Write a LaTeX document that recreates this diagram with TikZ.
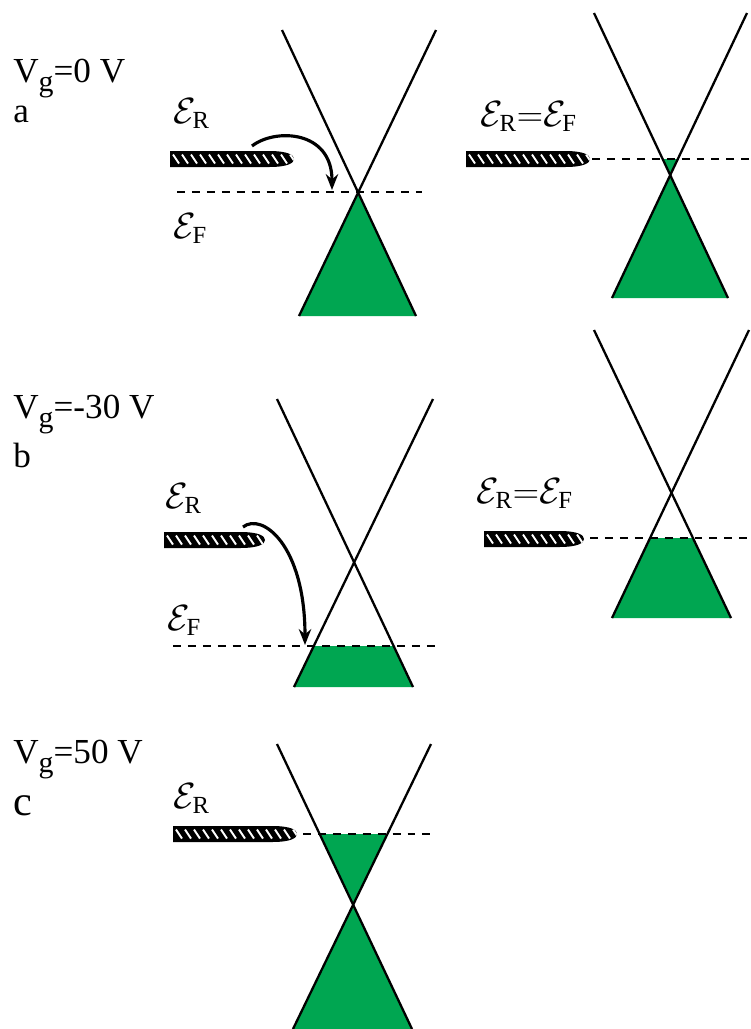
\documentclass[tikz,border=0pt]{standalone}
\usepackage{amsmath}
\usepackage{fontspec}
\setmainfont{Liberation Serif}
\usetikzlibrary{arrows.meta}
\definecolor{grafeno}{RGB}{0,166,81}
\tikzset{
  cono/.style={line width=1.3pt, black},
  fermi/.style={dash pattern=on 4.5pt off 4pt, line width=1.4pt},
  salto/.style={line width=1.8pt, -{Stealth[length=9pt,width=7pt]}},
  etiq/.style={anchor=base west, inner sep=0pt, font=\rmfamily\fontsize{20}{24}\selectfont},
}
% Punta: x izquierda, x derecha, y
\newcommand\punta[3]{%
  \def\puntacamino{(#1,#3-8) -- (#2-25,#3-8) .. controls (#2-6,#3-8) and (#2,#3-4) .. (#2,#3) .. controls (#2,#3+4) and (#2-6,#3+8) .. (#2-25,#3+8) -- (#1,#3+8) -- cycle}%
  \fill[black] \puntacamino;
  \begin{scope}
    \clip \puntacamino;
    \foreach \s in {3,12,...,138}
      \draw[white, line width=1.1pt] (#1+\s,#3-4.5) -- (#1+\s+6,#3+4.5);
  \end{scope}
}
% Cono: x sup. izq., x sup. der., y sup., x inf. izq., x inf. der., y inf., y Fermi
\newcommand\cono[7]{%
  \begin{scope}
    \clip (0,#7) rectangle (751,#6);
    \fill[grafeno] (#1,#3) -- (#2,#3) -- (#4,#6) -- (#5,#6) -- cycle;
  \end{scope}
  \draw[cono] (#1,#3) -- (#5,#6);
  \draw[cono] (#2,#3) -- (#4,#6);
}
\newcommand\Vg{V\raisebox{-5.5pt}{\fontsize{17}{17}\selectfont g}}
\begin{document}
\begin{tikzpicture}[x=0.02cm, y=-0.02cm]
  \useasboundingbox (0,0) rectangle (751,1029);
  % Panel a
  \node[etiq] (vgA) at (13,82) {\Vg=0 V};
  \node[etiq] (panelA) at (13,122) {a};
  \node[etiq] (erA) at (173,123) {$\mathcal{E}_{\text{R}}$};
  \node[etiq] (efA) at (173,238) {$\mathcal{E}_{\text{F}}$};
  \cono{282}{436}{30}{299}{416}{316}{192}
  \draw[fermi] (177,192) -- (422,192);
  \punta{170}{294}{159}
  \coordinate (saltoA0) at (252,146);
  \coordinate (saltoA1) at (332,190);
  \draw[salto] (saltoA0) .. controls (275,128) and (332,130) .. (saltoA1);
  % Panel a, derecha
  \node[etiq] (erefA) at (480,126) {$\mathcal{E}_{\text{R}}{=}\mathcal{E}_{\text{F}}$};
  \cono{594}{747}{13}{612}{728}{298}{159}
  \draw[fermi] (592,159) -- (751,159);
  \punta{466}{590}{159}
  % Panel b
  \node[etiq] (vgB) at (13,418) {\Vg=-30 V};
  \node[etiq] (panelB) at (13,467) {b};
  \node[etiq] (erB) at (165,508) {$\mathcal{E}_{\text{R}}$};
  \node[etiq] (efB) at (167,630) {$\mathcal{E}_{\text{F}}$};
  \cono{277}{433}{399}{294}{413}{687}{646}
  \draw[fermi] (173,646) -- (438,646);
  \punta{164}{265}{540}
  \coordinate (saltoB0) at (243,527);
  \coordinate (saltoB1) at (305,645);
  \draw[salto] (saltoB0) .. controls (262,512) and (305,545) .. (saltoB1);
  % Panel b, derecha
  \node[etiq] (erefB) at (476,503) {$\mathcal{E}_{\text{R}}{=}\mathcal{E}_{\text{F}}$};
  \cono{594}{749}{330}{612}{731}{618}{538}
  \draw[fermi] (590,538) -- (751,538);
  \punta{484}{584}{539}
  % Panel c
  \node[etiq] (vgC) at (13,763) {\Vg=50 V};
  \node[etiq, font=\rmfamily\fontsize{24}{28}\selectfont] (panelC) at (13,815) {c};
  \node[etiq] (erC) at (173,808) {$\mathcal{E}_{\text{R}}$};
  \cono{277}{431}{744}{293}{412}{1029}{834}
  \draw[fermi] (303,834) -- (432,834);
  \punta{173}{297}{834}
\end{tikzpicture}
\end{document}
